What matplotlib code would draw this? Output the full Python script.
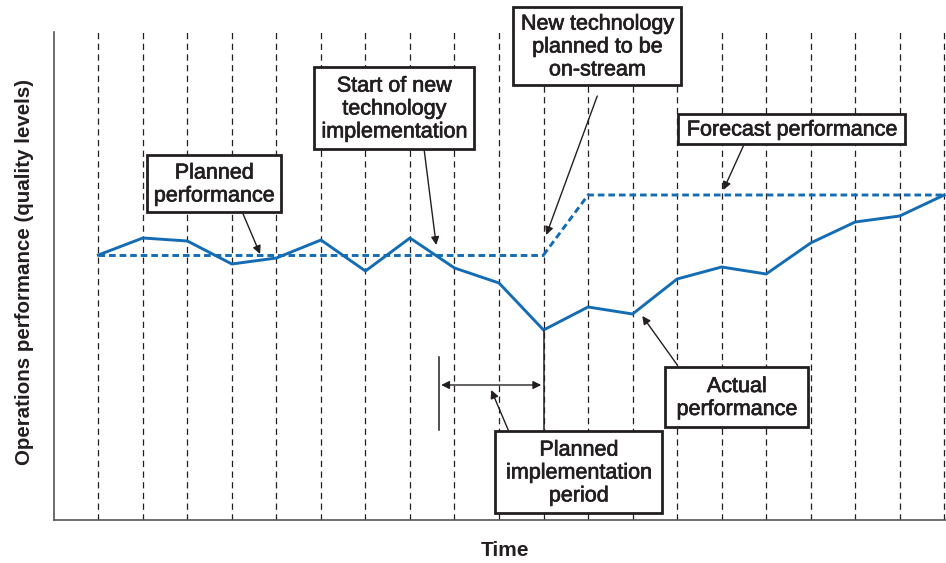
import matplotlib
matplotlib.use('Agg')
import matplotlib.pyplot as plt
import matplotlib.patheffects as pe
from matplotlib.patches import Rectangle

plt.rcParams['font.family'] = ['Liberation Sans', 'DejaVu Sans']
plt.rcParams['lines.scale_dashes'] = False

# Data (arbitrary performance units, one point per time period)
periods = list(range(20))
actual = [265, 282, 279, 256, 262, 280, 249, 282, 252, 237,
          190, 213, 206, 241, 253, 246, 277, 298, 304, 325]
planned_x = [0, 10]
planned = [265, 265]
forecast_x = [10, 11, 19]
forecast = [265, 325, 325]

BLUE = '#136cb4'
INK = '#231f20'

fig = plt.figure(figsize=(9.46, 5.63), dpi=100)
ax = fig.add_axes([53.5 / 946, 1 - 520 / 563, 1 - 53.5 / 946, (520 - 32) / 563])
ax.set_xlim(-1.007, 19.04)
ax.set_ylim(0, 488)


def px(x, y):
    # reference pixel -> data coordinates (layout helper for annotations)
    return (x - 98.3) / 44.5, 520 - y


# vertical dashed period lines
for p in periods:
    ax.axvline(p, color=INK, lw=0.9, ls=(0, (4.5, 3.2)), zorder=1)

ax.plot(periods, actual, color=BLUE, lw=2.1, zorder=3)
ax.plot(planned_x, planned, color=BLUE, lw=2.1, ls=(0, (4.8, 2.8)), zorder=3)
ax.plot(forecast_x, forecast, color=BLUE, lw=2.1, ls=(0, (4.8, 2.8)), zorder=3)

for s in ['top', 'right']:
    ax.spines[s].set_visible(False)
for s in ['left', 'bottom']:
    ax.spines[s].set_color('#555555')
    ax.spines[s].set_linewidth(1.2)
ax.set_xticks([])
ax.set_yticks([])

heavy = [pe.withStroke(linewidth=0.5, foreground=INK)]

fig.text(25 / 946, 1 - 272 / 563, 'Operations performance (quality levels)',
         rotation=90, ha='center', va='center', fontsize=14.8, fontweight='bold', color=INK)
fig.text(505 / 946, 1 - 550 / 563, 'Time', ha='center', va='center',
         fontsize=15, fontweight='bold', color=INK)


def box(x0, y0, x1, y1, label):
    a = px(x0, y1)
    b = px(x1, y0)
    ax.add_patch(Rectangle(a, b[0] - a[0], b[1] - a[1], facecolor='white',
                           edgecolor=INK, lw=2.0, zorder=5, clip_on=False))
    c = px((x0 + x1) / 2, (y0 + y1) / 2 + 1)
    ax.text(c[0], c[1], label, ha='center', va='center', fontsize=15.5,
            color=INK, linespacing=1.12, zorder=6, clip_on=False,
            path_effects=heavy)


def arrow(x0, y0, x1, y1):
    ax.annotate('', xy=px(x1, y1), xytext=px(x0, y0),
                arrowprops=dict(arrowstyle='-|>', color=INK, lw=1.0,
                                mutation_scale=12, shrinkA=0, shrinkB=0),
                zorder=4, annotation_clip=False)


box(147, 155, 281, 212, 'Planned\nperformance')
arrow(243, 214, 260, 254)

box(314, 67, 474, 149, 'Start of new\ntechnology\nimplementation')
arrow(424, 150, 436, 245)

box(513, 7, 681, 85, 'New technology\nplanned to be\non-stream')
arrow(597, 96, 546, 235)

box(678, 114, 905, 144, 'Forecast performance')
arrow(743, 146, 723, 190)

box(665, 367, 808, 427, 'Actual\nperformance')
arrow(677, 365, 642, 316)

box(495, 431, 662, 513, 'Planned\nimplementation\nperiod')
arrow(508, 430, 491, 390)

# planned implementation period marker
ax.annotate('', xy=px(541, 385), xytext=px(441, 385),
            arrowprops=dict(arrowstyle='<|-|>', color=INK, lw=1.0,
                            mutation_scale=12, shrinkA=0, shrinkB=0), zorder=4)
ax.plot(*zip(px(439, 357), px(439, 430)), color=INK, lw=1.1, zorder=4)
ax.plot(*zip(px(543.3, 331), px(543.3, 431)), color=INK, lw=1.1, zorder=4)

fig.savefig('out.png', dpi=100)
